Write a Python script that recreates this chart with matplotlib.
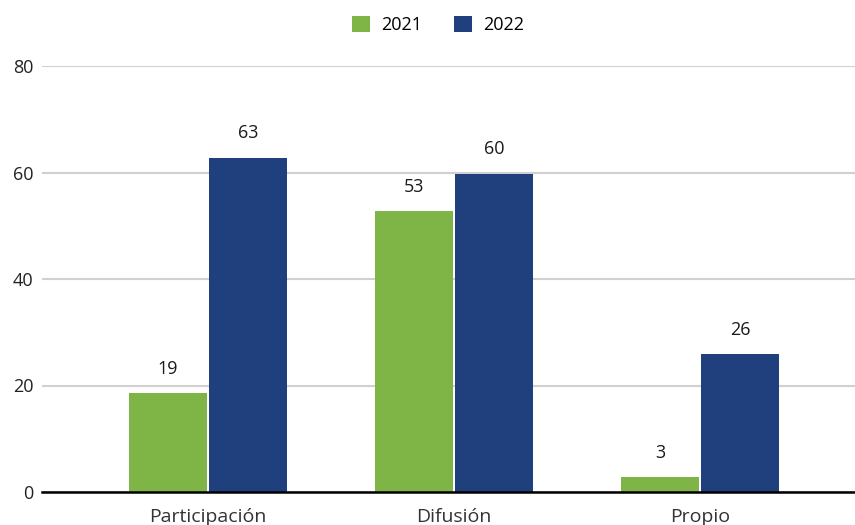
import matplotlib
matplotlib.use('Agg')
from matplotlib import pyplot as plt
import numpy as np

# datos del gráfico
categorias = ['Participación', 'Difusión', 'Propio']
valores_2021 = [18.6, 52.7, 2.8]
valores_2022 = [62.8, 59.8, 25.9]
etiquetas_2021 = ['19', '53', '3']
etiquetas_2022 = ['63', '60', '26']
series = ['2021', '2022']
ticks_y = [0, 20, 40, 60, 80]

color_2021 = '#7FB446'
color_2022 = '#203F7D'

plt.rcParams['font.family'] = ['Open Sans', 'DejaVu Sans']

fig = plt.figure(figsize=(8.55, 5.25), dpi=100)
ax = fig.add_axes([42 / 855, 33 / 525, 813 / 855, 426 / 525])

x = np.arange(len(categorias))
ancho = 0.317
hueco = 0.004
b1 = ax.bar(x - ancho / 2 - hueco, valores_2021, ancho, color=color_2021, label=series[0], zorder=3)
b2 = ax.bar(x + ancho / 2 + hueco, valores_2022, ancho, color=color_2022, label=series[1], zorder=3)

# etiquetas encima de las barras
for barras, etiquetas in [(b1, etiquetas_2021), (b2, etiquetas_2022)]:
    for b, t in zip(barras, etiquetas):
        ax.annotate(t, (b.get_x() + b.get_width() / 2, b.get_height()),
                    xytext=(0, 11), textcoords='offset points',
                    ha='center', va='bottom', fontsize=13, color='#1a1a1a')

ax.set_xlim(-0.675, 2.63)
ax.set_ylim(0, 80)
ax.set_yticks(ticks_y)
ax.set_xticks(x)
ax.set_xticklabels(categorias)
ax.tick_params(axis='y', length=0, pad=6, labelsize=13, labelcolor='#222222')
ax.tick_params(axis='x', length=0, pad=11.5, labelsize=14, labelcolor='#333333')

ax.grid(axis='y', color='#d0d0d0', linewidth=1.5, zorder=0)
for lado in ['top', 'right', 'left']:
    ax.spines[lado].set_visible(False)
ax.spines['bottom'].set_color('black')
ax.spines['bottom'].set_linewidth(1.8)
ax.spines['bottom'].set_zorder(4)

ax.legend(loc='upper center', bbox_to_anchor=((438 - 42) / 813, 1.155),
          ncol=2, frameon=False, fontsize=13, handlelength=1.0, handleheight=1.0,
          columnspacing=1.8, handletextpad=0.6)

fig.savefig('out.png', dpi=100)
